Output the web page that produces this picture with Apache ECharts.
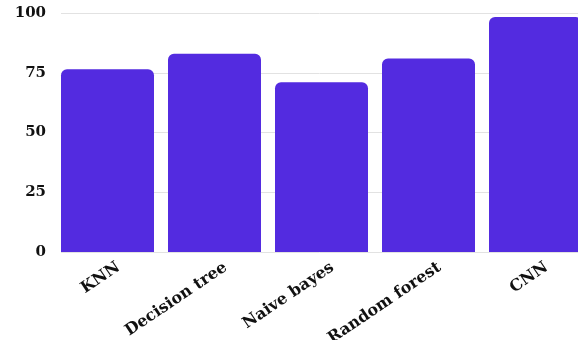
<!DOCTYPE html>
<html>
<head>
<meta charset="utf-8">
<script src="https://cdn.jsdelivr.net/npm/echarts@6/dist/echarts.min.js"></script>
<style>
  html, body { margin: 0; padding: 0; background: #ffffff; }
  #chart { width: 578px; height: 340px; }
</style>
</head>
<body>
<div id="chart"></div>
<script>
// Model accuracy (%) per classifier
const models = ['KNN', 'Decision tree', 'Naive bayes', 'Random forest', 'CNN'];
const accuracy = [76.5, 83, 71, 81, 98.3];
const yTicks = [0, 25, 50, 75, 100];

const labelFont = {
  fontFamily: '"DejaVu Serif", serif',
  fontWeight: 'bold',
  color: '#111111'
};

const chart = echarts.init(document.getElementById('chart'), null, { renderer: 'canvas' });

chart.setOption({
  animation: false,
  backgroundColor: '#ffffff',
  grid: [
    // value scale + horizontal gridlines
    { left: 61, right: 0, top: 13, bottom: 88, outerBoundsMode: 'none' },
    // bars
    { left: 54, width: 535, top: 13, bottom: 88, outerBoundsMode: 'none' },
    // category names, set a little to the right of the bar centres
    { left: 65, width: 535, top: 13, bottom: 88, outerBoundsMode: 'none' }
  ],
  xAxis: [
    { type: 'category', gridIndex: 0, data: models, show: false },
    { type: 'category', gridIndex: 1, data: models, show: false },
    {
      type: 'category',
      gridIndex: 2,
      data: models,
      axisLine: { show: false },
      axisTick: { show: false },
      axisLabel: Object.assign({ rotate: 34, margin: 14, interval: 0, fontSize: 16 }, labelFont)
    }
  ],
  yAxis: [
    {
      type: 'value',
      gridIndex: 0,
      min: yTicks[0],
      max: yTicks[yTicks.length - 1],
      interval: 25,
      axisLine: { show: false },
      axisTick: { show: false },
      axisLabel: Object.assign({ margin: 15, fontSize: 15 }, labelFont),
      splitLine: { show: true, lineStyle: { color: '#e2e2e2', width: 1 } }
    },
    {
      type: 'value',
      gridIndex: 1,
      min: yTicks[0],
      max: yTicks[yTicks.length - 1],
      show: false
    },
    {
      type: 'value',
      gridIndex: 2,
      min: yTicks[0],
      max: yTicks[yTicks.length - 1],
      show: false
    }
  ],
  series: [
    {
      type: 'bar',
      xAxisIndex: 1,
      yAxisIndex: 1,
      data: accuracy,
      barWidth: 93,
      itemStyle: { color: '#532BE0', borderRadius: [6, 6, 0, 0] }
    }
  ]
});
</script>
</body>
</html>
